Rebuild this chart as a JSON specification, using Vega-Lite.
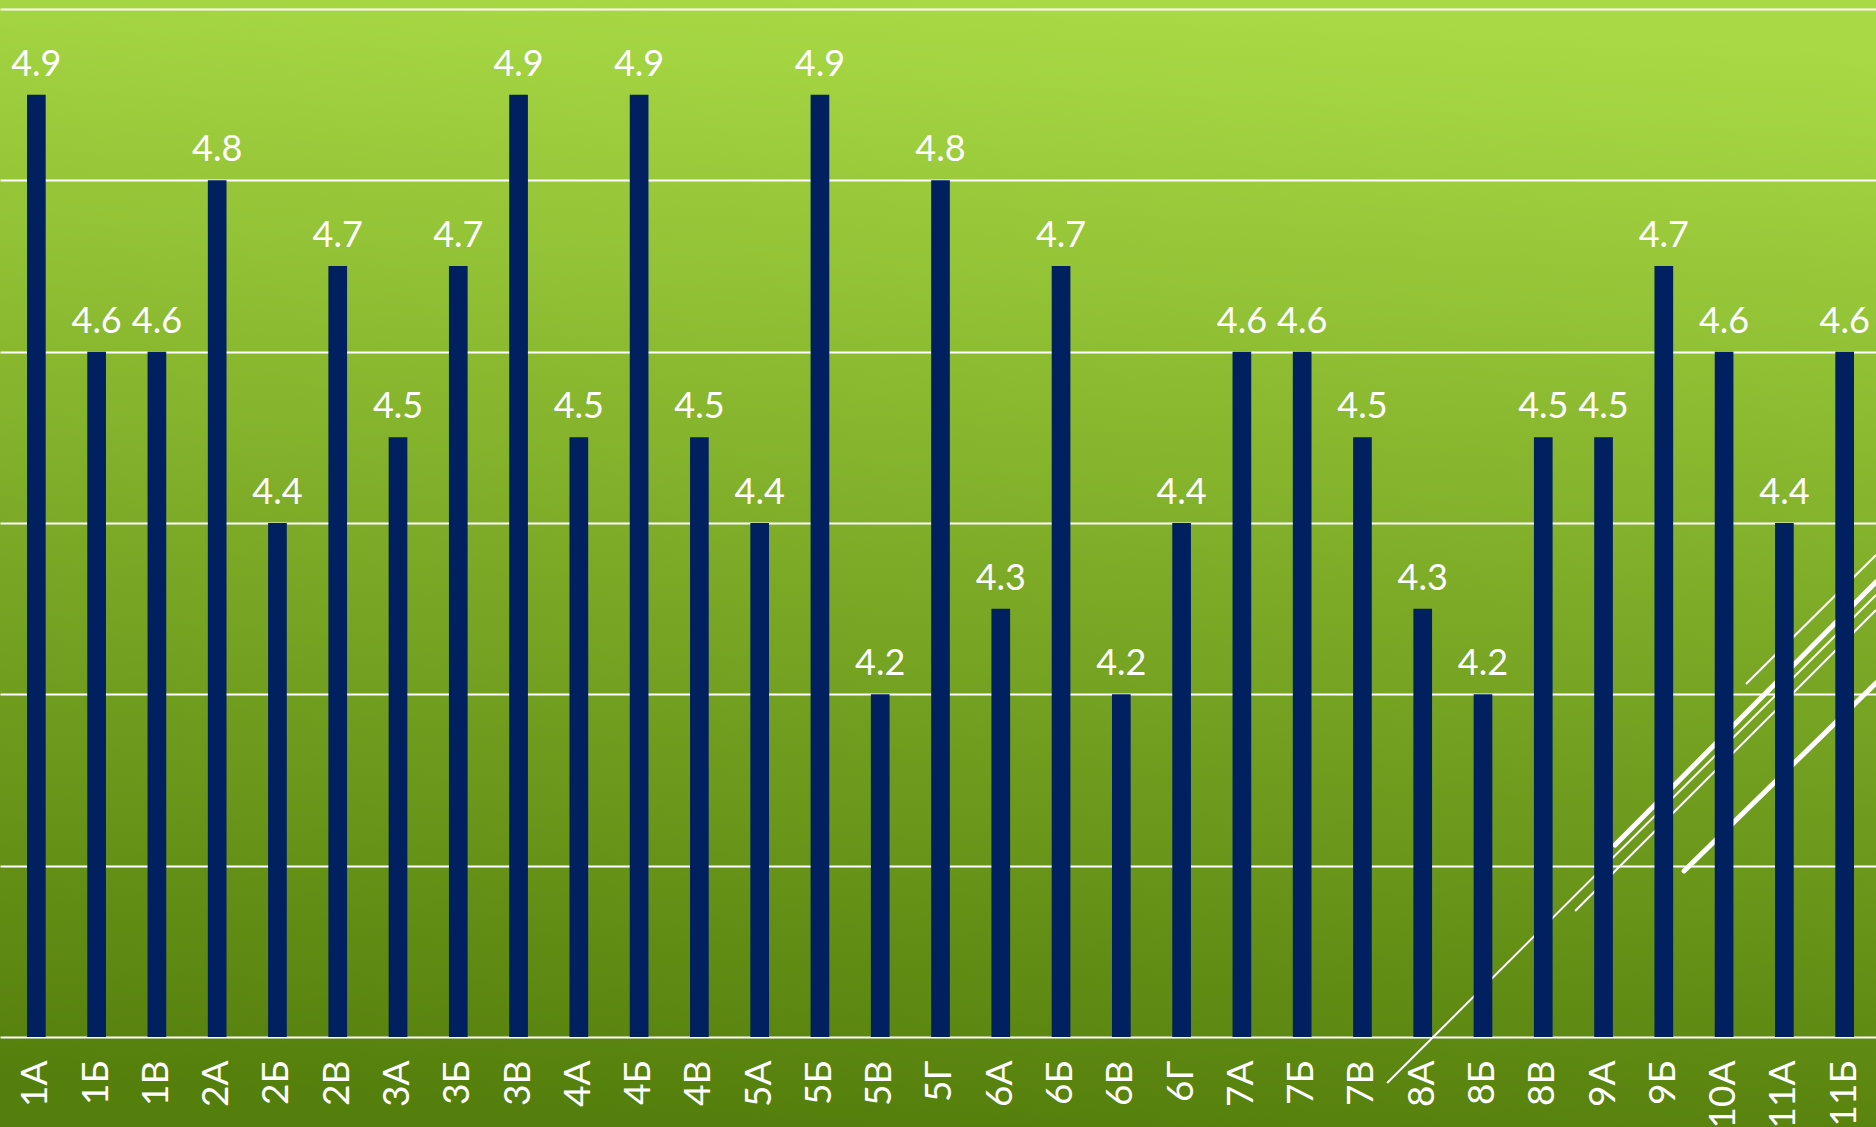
{
  "$schema": "https://vega.github.io/schema/vega-lite/v6.json",
  "width": 1876,
  "height": 1127,
  "padding": 0,
  "autosize": {"type": "none"},
  "background": "#567f0d",
  "config": {
    "view": {
      "stroke": null,
      "fill": {
        "gradient": "linear",
        "x1": 0.45, "y1": 1, "x2": 0.55, "y2": 0,
        "stops": [
          {"offset": 0, "color": "#557f0c"},
          {"offset": 0.5, "color": "#7dab27"},
          {"offset": 1, "color": "#a9da45"}
        ]
      }
    },
    "font": "Lato"
  },
  "datasets": {
    "classes": [
      {"class": "1А", "score": 4.9},
      {"class": "1Б", "score": 4.6},
      {"class": "1В", "score": 4.6},
      {"class": "2А", "score": 4.8},
      {"class": "2Б", "score": 4.4},
      {"class": "2В", "score": 4.7},
      {"class": "3А", "score": 4.5},
      {"class": "3Б", "score": 4.7},
      {"class": "3В", "score": 4.9},
      {"class": "4А", "score": 4.5},
      {"class": "4Б", "score": 4.9},
      {"class": "4В", "score": 4.5},
      {"class": "5А", "score": 4.4},
      {"class": "5Б", "score": 4.9},
      {"class": "5В", "score": 4.2},
      {"class": "5Г", "score": 4.8},
      {"class": "6А", "score": 4.3},
      {"class": "6Б", "score": 4.7},
      {"class": "6В", "score": 4.2},
      {"class": "6Г", "score": 4.4},
      {"class": "7А", "score": 4.6},
      {"class": "7Б", "score": 4.6},
      {"class": "7В", "score": 4.5},
      {"class": "8А", "score": 4.3},
      {"class": "8Б", "score": 4.2},
      {"class": "8В", "score": 4.5},
      {"class": "9А", "score": 4.5},
      {"class": "9Б", "score": 4.7},
      {"class": "10А", "score": 4.6},
      {"class": "11А", "score": 4.4},
      {"class": "11Б", "score": 4.6}
    ],
    "decor": [
      {"kind": "thin", "x1": 0.7394, "x2": 1.0, "y1": 0.039, "y2": 0.472},
      {"kind": "thin", "x1": 0.9307, "x2": 1.0, "y1": 0.3931, "y2": 0.5075},
      {"kind": "thin", "x1": 0.8396, "x2": 1.0, "y1": 0.1917, "y2": 0.4587},
      {"kind": "thick", "x1": 0.8609, "x2": 1.0, "y1": 0.2502, "y2": 0.4836},
      {"kind": "thick", "x1": 0.8977, "x2": 1.0, "y1": 0.2272, "y2": 0.394}
    ]
  },
  "layer": [
    {
      "data": {"name": "decor"},
      "transform": [{"filter": "datum.kind === 'thin'"}],
      "mark": {"type": "rule", "color": "white", "strokeWidth": 2},
      "encoding": {
        "x": {"field": "x1", "type": "quantitative", "scale": {"domain": [0, 1], "nice": false, "zero": false}, "axis": null},
        "x2": {"field": "x2"},
        "y": {"field": "y1", "type": "quantitative", "scale": {"domain": [0, 1], "nice": false, "zero": false}, "axis": null},
        "y2": {"field": "y2"}
      }
    },
    {
      "data": {"name": "decor"},
      "transform": [{"filter": "datum.kind === 'thick'"}],
      "mark": {"type": "rule", "color": "white", "strokeWidth": 5, "strokeCap": "round"},
      "encoding": {
        "x": {"field": "x1", "type": "quantitative", "scale": {"domain": [0, 1], "nice": false, "zero": false}, "axis": null},
        "x2": {"field": "x2"},
        "y": {"field": "y1", "type": "quantitative", "scale": {"domain": [0, 1], "nice": false, "zero": false}, "axis": null},
        "y2": {"field": "y2"}
      }
    },
    {
      "data": {"name": "classes"},
      "encoding": {
        "x": {
          "field": "class",
          "type": "nominal",
          "sort": null,
          "scale": {"paddingInner": 0.69, "paddingOuter": 0.4065, "align": 0.551},
          "axis": {
            "orient": "bottom",
            "offset": -90,
            "title": null,
            "domain": false,
            "ticks": false,
            "tickSize": 0,
            "grid": false,
            "labelAngle": -90,
            "labelAlign": "right",
            "labelBaseline": "middle",
            "labelPadding": 23,
            "labelColor": "white",
            "labelFont": "Lato",
            "labelFontWeight": 400,
            "labelFontSize": 37,
            "labelOverlap": false,
            "labelFlush": false,
            "labelBound": false
          }
        },
        "y": {
          "field": "score",
          "type": "quantitative",
          "scale": {"domain": [3.6949, 5.0105], "nice": false, "zero": false},
          "axis": {
            "title": null,
            "labels": false,
            "ticks": false,
            "domain": false,
            "grid": true,
            "values": [3.8, 4.0, 4.2, 4.4, 4.6, 4.8, 5.0],
            "gridColor": "white",
            "gridWidth": 2,
            "gridOpacity": 1
          }
        }
      },
      "layer": [
        {
          "mark": {"type": "bar", "color": "#002060"},
          "encoding": {"y2": {"datum": 3.8}}
        },
        {
          "mark": {"type": "text", "color": "white", "font": "Lato", "fontWeight": 400, "fontSize": 36, "baseline": "alphabetic", "dy": -19},
          "encoding": {"text": {"field": "score", "type": "quantitative", "format": ".1f"}}
        }
      ]
    }
  ],
  "resolve": {"scale": {"x": "independent", "y": "independent"}}
}
